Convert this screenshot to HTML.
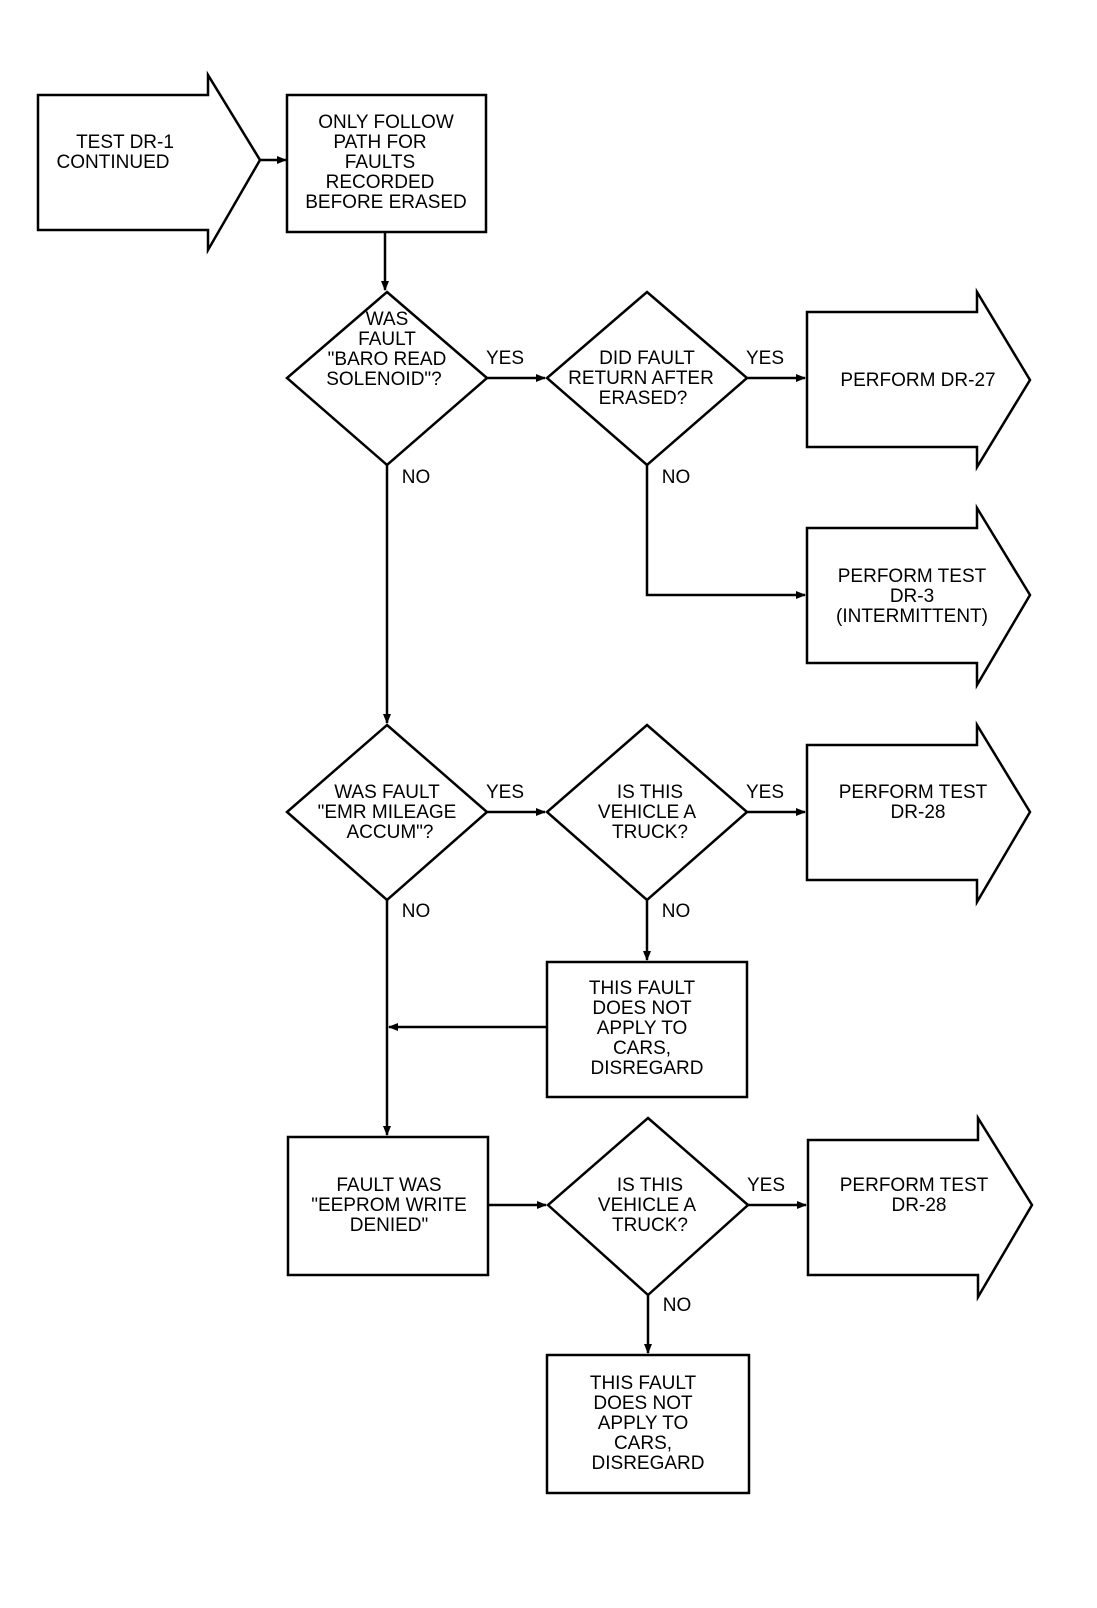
<!DOCTYPE html>
<html><head><style>body{margin:0;background:#fff}svg{display:block}text{font-family:"Liberation Sans",sans-serif;font-size:19px;fill:#000;text-anchor:middle}</style></head>
<body>
<svg width="1097" height="1608" viewBox="0 0 1097 1608" xmlns="http://www.w3.org/2000/svg">
<defs><marker id="a" markerWidth="10" markerHeight="8" refX="9" refY="4" orient="auto" markerUnits="userSpaceOnUse"><path d="M0,0 L10,4 L0,8 z" fill="#000"/></marker></defs>
<g fill="none" stroke="#000" stroke-width="2.5">
<path d="M38,95 H208 V75 L260,160 L208,250 V230 H38 Z"/>
<rect x="287" y="95" width="199" height="137"/>
<path d="M385,232 V290" marker-end="url(#a)"/>
<path d="M260,160 H286" marker-end="url(#a)"/>
<path d="M387,292 L487,378 L387,465 L287,378 Z"/>
<path d="M487,378 H545" marker-end="url(#a)"/>
<path d="M647,292 L747,378 L647,465 L547,378 Z"/>
<path d="M747,378 H805" marker-end="url(#a)"/>
<path d="M807,312 H977 V292 L1030,380 L977,467 V447 H807 Z"/>
<path d="M647,465 V595 H805" marker-end="url(#a)"/>
<path d="M807,528 H977 V508 L1030,595 L977,685 V663 H807 Z"/>
<path d="M387,465 V723" marker-end="url(#a)"/>
<path d="M387,725 L487,812 L387,900 L287,812 Z"/>
<path d="M487,812 H545" marker-end="url(#a)"/>
<path d="M647,725 L747,812 L647,900 L547,812 Z"/>
<path d="M747,812 H805" marker-end="url(#a)"/>
<path d="M807,745 H977 V725 L1030,812 L977,902 V880 H807 Z"/>
<path d="M647,900 V960" marker-end="url(#a)"/>
<rect x="547" y="962" width="200" height="135"/>
<path d="M547,1027 H389" marker-end="url(#a)"/>
<path d="M387,900 V1135" marker-end="url(#a)"/>
<rect x="288" y="1137" width="200" height="138"/>
<path d="M488,1205 H546" marker-end="url(#a)"/>
<path d="M648,1118 L748,1205 L648,1295 L548,1205 Z"/>
<path d="M748,1205 H806" marker-end="url(#a)"/>
<path d="M808,1140 H978 V1118 L1032,1205 L978,1297 V1275 H808 Z"/>
<path d="M648,1295 V1353" marker-end="url(#a)"/>
<rect x="547" y="1355" width="202" height="138"/>
</g>
<text x="125" y="148">TEST DR-1</text><text x="113" y="168">CONTINUED</text>
<text x="386" y="128">ONLY FOLLOW</text><text x="380" y="148">PATH FOR</text><text x="380" y="168">FAULTS</text><text x="380" y="188">RECORDED</text><text x="386" y="208">BEFORE ERASED</text>
<text x="387" y="325">WAS</text><text x="387" y="345">FAULT</text><text x="387" y="365">"BARO READ</text><text x="384" y="385">SOLENOID"?</text>
<text x="505" y="364">YES</text><text x="765" y="364">YES</text><text x="416" y="483">NO</text><text x="676" y="483">NO</text>
<text x="647" y="364">DID FAULT</text><text x="641" y="384">RETURN AFTER</text><text x="643" y="404">ERASED?</text>
<text x="918" y="386">PERFORM DR-27</text>
<text x="912" y="582">PERFORM TEST</text><text x="912" y="602">DR-3</text><text x="912" y="622">(INTERMITTENT)</text>
<text x="387" y="798">WAS FAULT</text><text x="387" y="818">"EMR MILEAGE</text><text x="390" y="838">ACCUM"?</text>
<text x="505" y="798">YES</text><text x="765" y="798">YES</text><text x="416" y="917">NO</text><text x="676" y="917">NO</text>
<text x="650" y="798">IS THIS</text><text x="647" y="818">VEHICLE A</text><text x="650" y="838">TRUCK?</text>
<text x="913" y="798">PERFORM TEST</text><text x="918" y="818">DR-28</text>
<text x="642" y="994">THIS FAULT</text><text x="642" y="1014">DOES NOT</text><text x="642" y="1034">APPLY TO</text><text x="642" y="1054">CARS,</text><text x="647" y="1074">DISREGARD</text>
<text x="389" y="1191">FAULT WAS</text><text x="389" y="1211">"EEPROM WRITE</text><text x="389" y="1231">DENIED"</text>
<text x="650" y="1191">IS THIS</text><text x="647" y="1211">VEHICLE A</text><text x="650" y="1231">TRUCK?</text>
<text x="766" y="1191">YES</text><text x="677" y="1311">NO</text>
<text x="914" y="1191">PERFORM TEST</text><text x="919" y="1211">DR-28</text>
<text x="643" y="1389">THIS FAULT</text><text x="643" y="1409">DOES NOT</text><text x="643" y="1429">APPLY TO</text><text x="643" y="1449">CARS,</text><text x="648" y="1469">DISREGARD</text>
</svg>
</body></html>
